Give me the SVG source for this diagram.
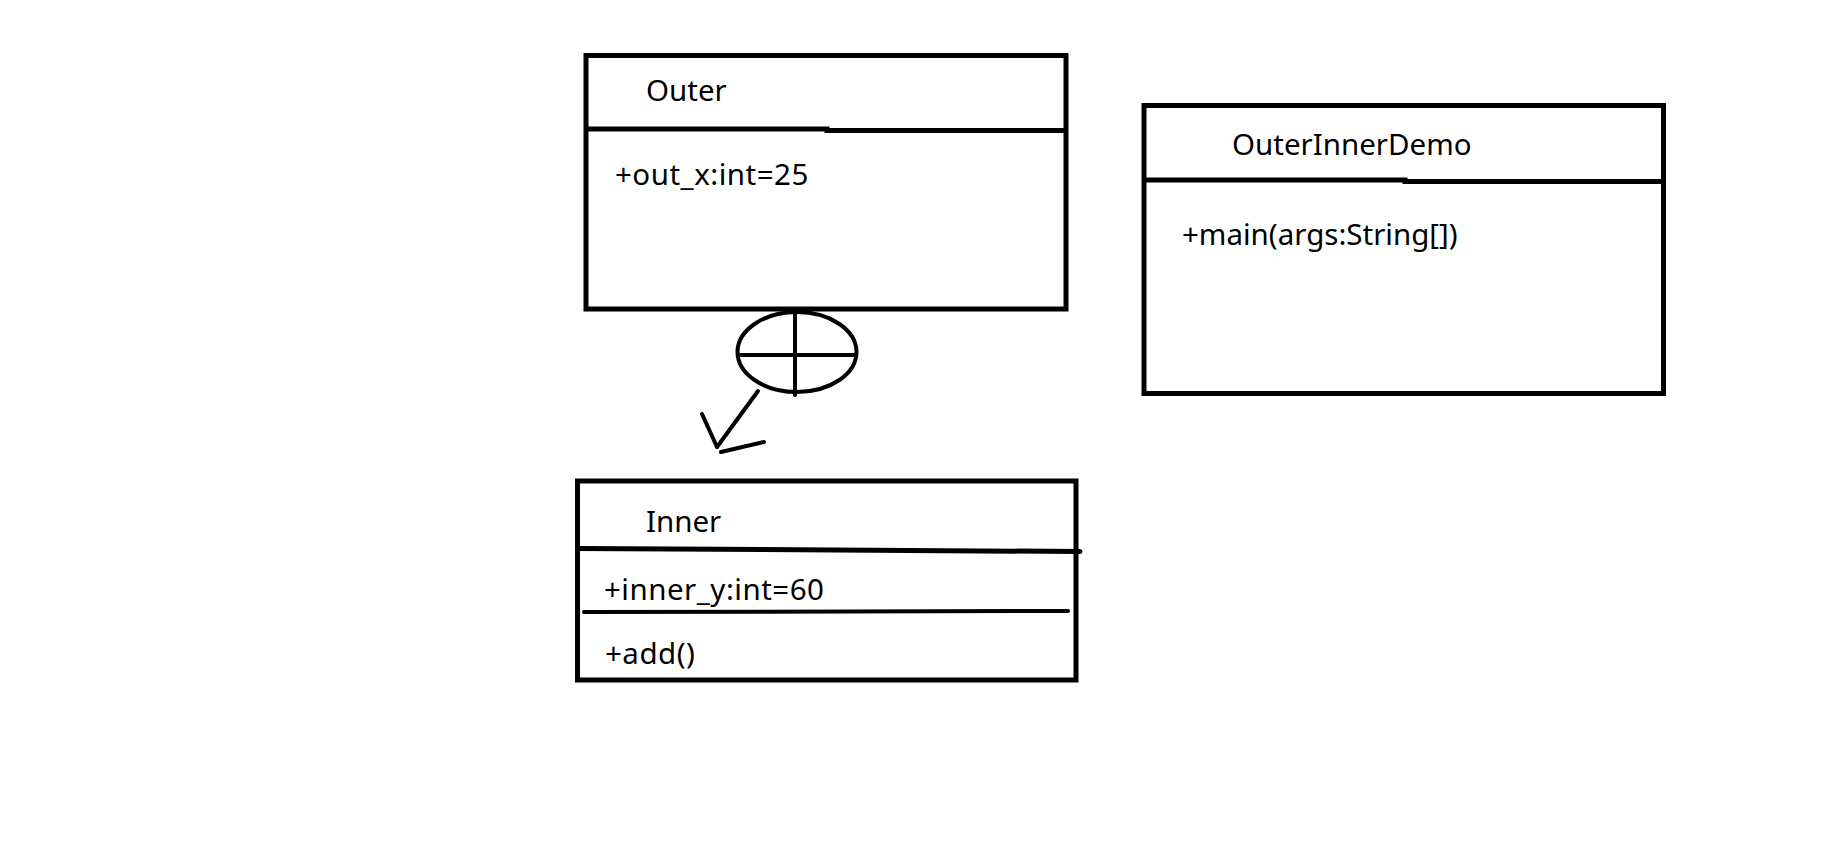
<svg xmlns="http://www.w3.org/2000/svg" width="1831" height="846" viewBox="0 0 1831 846">
<style>
.box{fill:none;stroke:#000;stroke-width:5}
.div{fill:none;stroke:#000;stroke-width:5;stroke-linecap:round}
.thin{fill:none;stroke:#000;stroke-width:4;stroke-linecap:round}
.t{font-family:"Noto Sans","Open Sans","Liberation Sans",sans-serif;font-size:29.5px;fill:#000}
.w{letter-spacing:0.5px}
</style>
<rect x="0" y="0" width="1831" height="846" fill="#fff"/>
<g id="Outer">
<rect class="box" x="586" y="55.5" width="480" height="253.5"/>
<polyline class="div" points="586,129 827,129 827,130.5 1066,130.5" style="stroke-linecap:butt"/>
<text class="t" x="646" y="101">Outer</text>
<text class="t w" x="615" y="185">+out_x:int=25</text>
</g>
<g id="Inner">
<rect class="box" x="577.5" y="481" width="498.5" height="199"/>
<line class="div" x1="577.5" y1="548.5" x2="1080" y2="551.5"/>
<line class="thin" x1="584" y1="612" x2="1068" y2="611"/>
<text class="t" x="646" y="532">Inner</text>
<text class="t w" x="604" y="600">+inner_y:int=60</text>
<text class="t w" x="605" y="664">+add()</text>
</g>
<g id="OuterInnerDemo">
<rect class="box" x="1144" y="105.5" width="519.5" height="288"/>
<polyline class="div" points="1144,180 1405,180 1405,181.5 1663.5,181.5" style="stroke-linecap:butt"/>
<text class="t" x="1232" y="155">OuterInnerDemo</text>
<text class="t" x="1182" y="245">+main(args:String[])</text>
</g>
<g id="connectors">
<ellipse class="thin" cx="797" cy="352" rx="59.5" ry="40"/>
<line class="thin" x1="738" y1="355" x2="856" y2="355"/>
<line class="thin" x1="795" y1="310" x2="795" y2="395"/>
<line class="thin" x1="758" y1="391" x2="717" y2="447"/>
<line class="thin" x1="702" y1="414" x2="717" y2="447"/>
<line class="thin" x1="721" y1="452" x2="764" y2="442"/>
</g>
</svg>
